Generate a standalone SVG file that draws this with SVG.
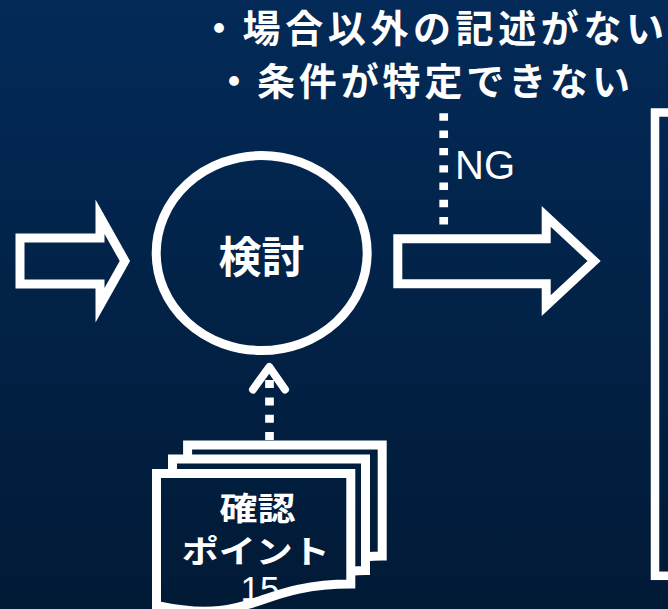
<svg xmlns="http://www.w3.org/2000/svg" width="668" height="609" viewBox="0 0 668 609">
  <defs>
    <linearGradient id="bg" x1="0" y1="0" x2="0" y2="1">
      <stop offset="0" stop-color="#032a58"/>
      <stop offset="1" stop-color="#011a36"/>
    </linearGradient>
  </defs>
  <style>
    .ln { fill: none; stroke: #ffffff; stroke-width: 9; stroke-linejoin: miter; stroke-miterlimit: 10; }
    .jp { font-family: "Noto Sans CJK JP", "Noto Sans", sans-serif; font-weight: bold; fill: #ffffff; }
    .en { font-family: "Liberation Sans", Arial, sans-serif; fill: #ffffff; }
    .dot { fill: none; stroke: #ffffff; stroke-width: 8.7; }
  </style>
  <rect x="0" y="0" width="668" height="609" fill="url(#bg)"/>

  <g id="condition-label">
    <text class="jp" x="200" y="42" font-size="38" textLength="464">・場合以外の記述がない</text>
    <text class="jp" x="215" y="95" font-size="38" textLength="415">・条件が特定できない</text>
  </g>

  <g id="connectors">
    <path id="arrow-in" class="ln" d="M20,238 L100,238 L100,216.7 L124.9,261 L100,305.3 L100,284 L20,284 Z"/>
    <path id="arrow-out" class="ln" d="M397.8,238.8 L546.2,238.8 L546.2,216.4 L594.1,261 L546.2,305.6 L546.2,283.8 L397.8,283.8 Z"/>
    <g id="ng-line">
      <path class="dot" d="M443.7,113.3 L443.7,225" stroke-dasharray="7.4 9.9"/>
      <text class="en" x="455" y="179" font-size="40">NG</text>
    </g>
    <g id="check-arrow">
      <path class="dot" d="M269.5,440 L269.5,380" stroke-dasharray="8 9.3"/>
      <path d="M253,389.5 L269.3,367 L285,389.5" fill="none" stroke="#ffffff" stroke-width="8" stroke-linecap="round" stroke-linejoin="round"/>
    </g>
  </g>

  <g id="node-kentou">
    <ellipse cx="261.7" cy="253" rx="105.5" ry="97.5" fill="none" stroke="#ffffff" stroke-width="9"/>
    <text class="jp" x="261.5" y="273.3" font-size="43" text-anchor="middle">検討</text>
  </g>

  <g id="node-kakunin">
    <text class="en" x="260" y="601" font-size="35" text-anchor="middle">15</text>
    <path class="ln" d="M187.6,459 L187.6,445 L382.2,445 L382.2,556.1 C373.9,556.1 365.5,556.7 365.5,556.7"/>
    <path class="ln" d="M172.5,473.4 L172.5,459 L365.5,459 L365.5,570.5 C358.2,570.5 350.8,571.2 350.8,571.2"/>
    <path class="ln" d="M156.5,605.4 C253.7,626.7 253.7,584.1 350.8,584.1 L350.8,473.4 L156.5,473.4 Z"/>
    <text class="jp" x="257.5" y="520" font-size="32" text-anchor="middle" textLength="76" lengthAdjust="spacingAndGlyphs">確認</text>
    <text class="jp" x="255.8" y="563" font-size="32" text-anchor="middle" textLength="148" lengthAdjust="spacingAndGlyphs">ポイント</text>
  </g>

  <g id="node-result">
    <rect x="655" y="112.5" width="100" height="463.3" fill="none" stroke="#ffffff" stroke-width="8.5"/>
  </g>
</svg>
